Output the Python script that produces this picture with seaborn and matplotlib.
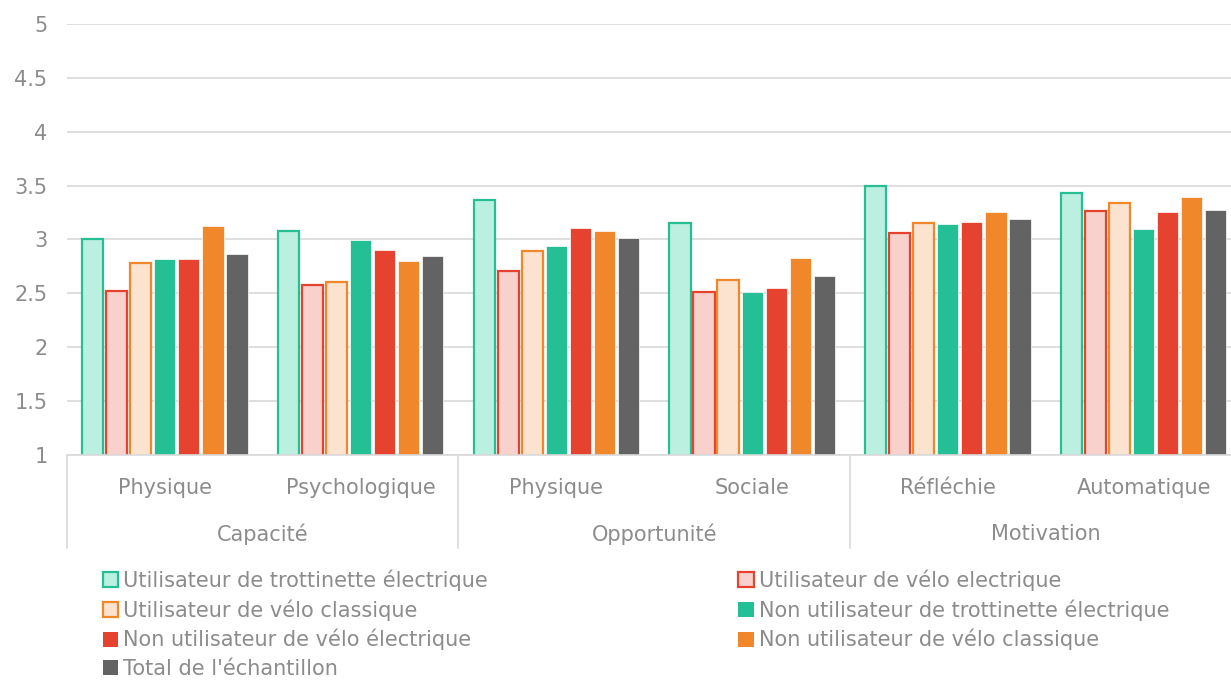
import matplotlib
matplotlib.use("Agg")
import matplotlib.pyplot as plt
import matplotlib.transforms as mtransforms
from matplotlib.patches import Patch
import numpy as np
import pandas as pd
import seaborn as sns

# Groups (COM-B dimensions) and their sub-dimensions
groups = ["Capacité", "Opportunité", "Motivation"]
subcats = ["Physique", "Psychologique", "Physique", "Sociale", "Réfléchie", "Automatique"]
group_of_sub = [0, 0, 1, 1, 2, 2]

series = [
    "Utilisateur de trottinette électrique",
    "Utilisateur de vélo electrique",
    "Utilisateur de vélo classique",
    "Non utilisateur de trottinette électrique",
    "Non utilisateur de vélo électrique",
    "Non utilisateur de vélo classique",
    "Total de l'échantillon",
]

# Mean scores, one list per sub-dimension, in series order
capacite_physique = [3.00, 2.52, 2.78, 2.82, 2.82, 3.12, 2.86]
capacite_psycho = [3.08, 2.58, 2.60, 2.99, 2.90, 2.80, 2.85]
opportunite_physique = [3.37, 2.71, 2.89, 2.94, 3.11, 3.08, 3.01]
opportunite_sociale = [3.15, 2.51, 2.62, 2.51, 2.55, 2.83, 2.66]
motivation_reflechie = [3.50, 3.06, 3.15, 3.14, 3.16, 3.25, 3.19]
motivation_automatique = [3.43, 3.26, 3.34, 3.10, 3.25, 3.39, 3.27]

values = [capacite_physique, capacite_psycho, opportunite_physique,
          opportunite_sociale, motivation_reflechie, motivation_automatique]

face_colors = ["#BBF0E1", "#F8D0CC", "#FBE3D0", "#25BF95", "#E5432F", "#F0872A", "#636363"]
edge_colors = ["#26BF94", "#E5432F", "#F0872A", "#25BF95", "#E5432F", "#F0872A", "#636363"]
outlined = [True, True, True, False, False, False, False]

keys = [f"{groups[g]}|{s}|{i}" for i, (g, s) in enumerate(zip(group_of_sub, subcats))]
rows = []
for k, vals in zip(keys, values):
    for s, v in zip(series, vals):
        rows.append({"key": k, "serie": s, "score": v})
df = pd.DataFrame(rows)

sns.set_theme(style="white")
plt.rcParams["font.family"] = ["DejaVu Sans"]
text_color = "#8C8C8C"
grid_color = "#D9D9D9"
fs = 15

fig = plt.figure(figsize=(12.31, 6.82), dpi=100)
ax = fig.add_axes([0.0544, 0.333, 0.9541, 0.632])

sns.barplot(data=df, x="key", y="score", hue="serie", order=keys, hue_order=series,
            palette=face_colors, width=0.86, gap=0.12, ax=ax, legend=False,
            saturation=1, errorbar=None)

# colour outlines per series
for cont, ec, outl in zip(ax.containers, edge_colors, outlined):
    for bar in cont:
        if outl:
            bar.set_edgecolor(ec)
            bar.set_linewidth(1.6)
        else:
            bar.set_edgecolor("white")
            bar.set_linewidth(0.5)

ax.set_ylim(1, 5)
ax.set_xlim(-0.5, 5.5)
yt = np.arange(1, 5.01, 0.5)
ax.set_yticks(yt)
ax.set_yticklabels([f"{t:g}" for t in yt], color=text_color, fontsize=fs)
ax.tick_params(axis="y", length=0, pad=14)
ax.yaxis.grid(True, color=grid_color, linewidth=1.2)
ax.set_axisbelow(True)
for sp in ["top", "right", "left"]:
    ax.spines[sp].set_visible(False)
ax.spines["bottom"].set_color(grid_color)
ax.spines["bottom"].set_linewidth(1.2)

ax.set_xlabel("")
ax.set_ylabel("")
ax.set_xticks(range(len(subcats)))
ax.set_xticklabels([])
ax.tick_params(axis="x", length=0)

trans = mtransforms.blended_transform_factory(ax.transData, ax.transAxes)
for i, s in enumerate(subcats):
    ax.text(i, -0.076, s, transform=trans, ha="center", va="center",
            color=text_color, fontsize=fs)
for g, name in enumerate(groups):
    ax.text(2 * g + 0.5, -0.183, name, transform=trans, ha="center", va="center",
            color=text_color, fontsize=fs)
for xb in [-0.5, 1.5, 3.5, 5.5]:
    ax.plot([xb, xb], [0, -0.217], transform=trans, color=grid_color,
            linewidth=1.2, clip_on=False)

handles = []
for fc, ec, outl in zip(face_colors, edge_colors, outlined):
    handles.append(Patch(facecolor=fc, edgecolor=ec, linewidth=1.6 if outl else 0))
order = [0, 2, 4, 6, 1, 3, 5]
leg = fig.legend([handles[i] for i in order], [series[i] for i in order],
                 loc="upper left", bbox_to_anchor=(0.0765, 0.1775), ncol=2,
                 frameon=False, fontsize=fs, handlelength=0.75, handleheight=0.75,
                 handletextpad=0.25, labelspacing=0.4, columnspacing=12.0,
                 borderaxespad=0)
for t in leg.get_texts():
    t.set_color(text_color)

fig.savefig("out.png", dpi=100)
